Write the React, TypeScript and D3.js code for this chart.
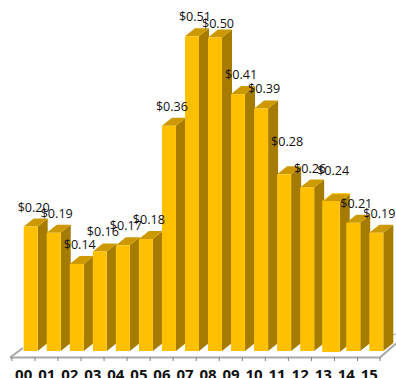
import * as d3 from "d3";

// Dollar amounts per two-digit period; 13 is the pulled-out, emphasised column
const periods = ["00", "01", "02", "03", "04", "05", "06", "07", "08", "09", "10", "11", "12", "13", "14", "15"];
const amounts = [0.2, 0.19, 0.14, 0.16, 0.17, 0.18, 0.362, 0.506, 0.504, 0.413, 0.39, 0.284, 0.263, 0.24, 0.206, 0.19];
const emphasised = ["13"];

const W = 396;
const H = 378;
const BASE_Y = 351;
const DX = 10;
const DY = -8;
const BAR_W = 14;

// Value labels normally sit 15px above their column; these were nudged to reduce collisions
const LABEL_LIFT = 15;
const liftOverrides: Record<string, number> = { "08": 10, "11": 28, "12": 14, "13": 27 };

const x = d3.scalePoint<string>().domain(periods).range([23.7, 369.3]);
const y = d3.scaleLinear().domain([0, 0.5]).range([BASE_Y, BASE_Y - 311]);
const money = d3.format("$.2f");
const FONT = "'Open Sans', 'Noto Sans', sans-serif";
const FLOOR = "#a8a8a8";

export default function App() {
  return (
    <svg
      width={W}
      height={H}
      viewBox={`0 0 ${W} ${H}`}
      style={{ position: "absolute", left: 0, top: 0, background: "#fff" }}
    >
      {/* floor edges and ticks */}
      <path d="M10 357.5 L23 348" stroke={FLOOR} strokeWidth={2} fill="none" />
      <path d="M380 357.5 L396 343.5" stroke={FLOOR} strokeWidth={2} fill="none" />
      <line x1={10} x2={380.5} y1={357.5} y2={357.5} stroke={FLOOR} strokeWidth={2} />
      {periods.map((p) => (
        <line key={p} x1={(x(p) as number) - 11.8} x2={(x(p) as number) - 11.8} y1={357} y2={361} stroke="#808080" />
      ))}
      <line x1={380} x2={380} y1={357} y2={361} stroke="#808080" />
      <line x1={393} x2={396} y1={335} y2={334} stroke={FLOOR} />

      {periods.map((p, i) => {
        const hot = emphasised.includes(p);
        const x0 = (x(p) as number) - (hot ? 1 : 0);
        const w = hot ? 17.5 : BAR_W;
        const top = y(amounts[i]);
        const bottom = BASE_Y + (hot ? 1 : 0);
        return (
          <g key={p}>
            <path d={`M${x0 + w} ${top} l${DX} ${DY} V${bottom + DY} l${-DX} ${-DY} Z`} fill="#a67c00" />
            <path
              d={`M${x0} ${top} l${DX} ${DY} h${w} l${-DX} ${-DY} Z`}
              fill="#cc9900"
              stroke={hot ? "#ffc000" : "none"}
            />
            <rect x={x0} y={top} width={w} height={bottom - top} fill="#ffc000" />
          </g>
        );
      })}

      {periods.map((p, i) => (
        <text
          key={p}
          x={(x(p) as number) + 10}
          y={y(amounts[i]) - (liftOverrides[p] ?? LABEL_LIFT)}
          textAnchor="middle"
          fontFamily={FONT}
          fontSize={12.6}
          fill="#111"
        >
          {money(amounts[i])}
        </text>
      ))}

      {periods.map((p) => (
        <text
          key={p}
          x={x(p) as number}
          y={379.5}
          textAnchor="middle"
          fontFamily={FONT}
          fontSize={15}
          fontWeight={700}
          fill="#111"
        >
          {p}
        </text>
      ))}
    </svg>
  );
}
